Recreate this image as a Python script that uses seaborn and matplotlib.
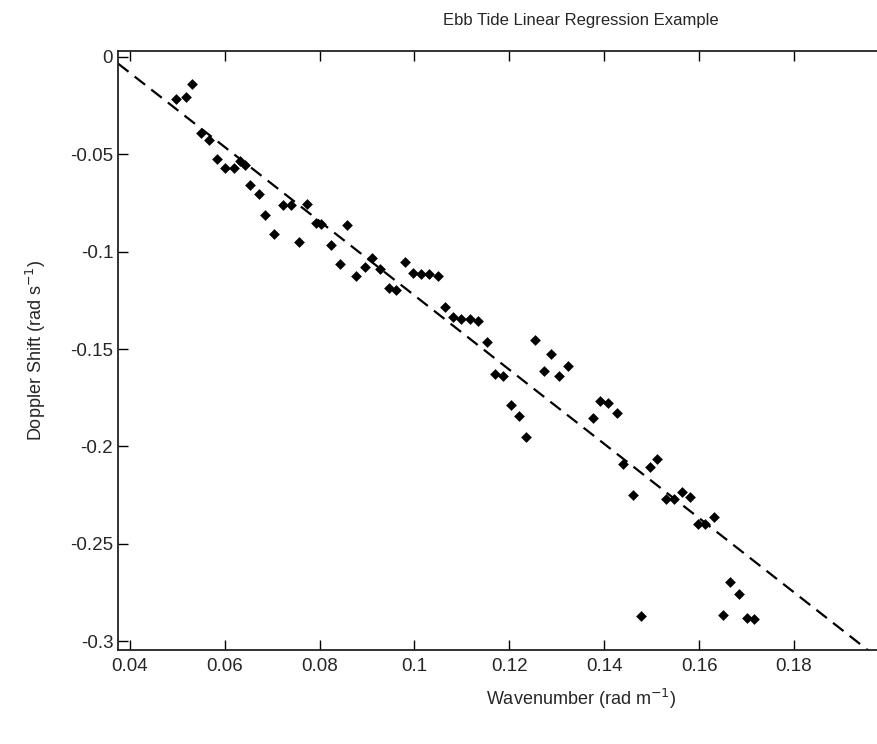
import numpy as np
import pandas as pd
import seaborn as sns
import matplotlib.pyplot as plt

# wavenumber (rad/m) and doppler shift (rad/s)
wavenumber = [0.0532, 0.0498, 0.0518, 0.0549, 0.0567, 0.0583, 0.0600, 0.0619, 0.0632, 0.0642,
              0.0653, 0.0672, 0.0685, 0.0704, 0.0722, 0.0739, 0.0774, 0.0793, 0.0802, 0.0858,
              0.0756, 0.0825, 0.0843, 0.0877, 0.0895, 0.0911, 0.0927, 0.0947, 0.0961, 0.0980,
              0.0997, 0.1013, 0.1031, 0.1050, 0.1064, 0.1082, 0.1099, 0.1118, 0.1134, 0.1152,
              0.1254, 0.1288, 0.1324, 0.1274, 0.1305, 0.1170, 0.1186, 0.1203, 0.1221, 0.1236,
              0.1391, 0.1408, 0.1427, 0.1376, 0.1439, 0.1496, 0.1512, 0.1460, 0.1530, 0.1548,
              0.1563, 0.1581, 0.1598, 0.1612, 0.1632, 0.1477, 0.1665, 0.1684, 0.1651, 0.1700,
              0.1716]
doppler = [-0.0140, -0.0215, -0.0207, -0.0391, -0.0426, -0.0525, -0.0571, -0.0571, -0.0537, -0.0554,
           -0.0660, -0.0704, -0.0812, -0.0908, -0.0759, -0.0759, -0.0756, -0.0853, -0.0859, -0.0865,
           -0.0952, -0.0964, -0.1062, -0.1123, -0.1078, -0.1034, -0.1089, -0.1186, -0.1195, -0.1053,
           -0.1109, -0.1114, -0.1116, -0.1123, -0.1282, -0.1337, -0.1345, -0.1345, -0.1357, -0.1462,
           -0.1455, -0.1523, -0.1588, -0.1614, -0.1636, -0.1626, -0.1636, -0.1785, -0.1845, -0.1952,
           -0.1767, -0.1776, -0.1829, -0.1856, -0.2088, -0.2106, -0.2062, -0.2248, -0.2272, -0.2272,
           -0.2236, -0.2262, -0.2400, -0.2400, -0.2363, -0.2873, -0.2694, -0.2755, -0.2865, -0.2882,
           -0.2887]

# fitted line as drawn in the reference: dw = intercept + slope * k
fit_intercept = 0.0680
fit_slope = -1.905

xticks = [0.04, 0.06, 0.08, 0.1, 0.12, 0.14, 0.16, 0.18]
xticklabels = ['0.04', '0.06', '0.08', '0.1', '0.12', '0.14', '0.16', '0.18']
yticks = [0, -0.05, -0.1, -0.15, -0.2, -0.25, -0.3]
yticklabels = ['0', '-0.05', '-0.1', '-0.15', '-0.2', '-0.25', '-0.3']

df = pd.DataFrame({'k': wavenumber, 'dw': doppler})

sns.set_style('ticks')
plt.rcParams['font.family'] = ['Liberation Sans Narrow', 'Liberation Sans', 'DejaVu Sans']
plt.rcParams['xtick.direction'] = 'in'
plt.rcParams['ytick.direction'] = 'in'

fig = plt.figure(figsize=(8.78, 7.44), dpi=100)
# axes runs past the right edge like the cropped original
ax = fig.add_axes([118 / 878, 94 / 744, 926 / 878, 599 / 744])
xlim = (0.0375, 0.2327)
ax.set_xlim(xlim)
ax.set_ylim(-0.3045, 0.003)

line_k = np.array(xlim)
fit_df = pd.DataFrame({'k': line_k, 'dw': fit_intercept + fit_slope * line_k})
sns.lineplot(x='k', y='dw', data=fit_df, ax=ax, color='black', lw=1.6, dashes=False)
ax.lines[-1].set_dashes((6, 3.5))
sns.scatterplot(x='k', y='dw', data=df, ax=ax, marker='D', s=30, color='black',
                edgecolor='black', linewidth=0, zorder=3)

ax.set_xticks(xticks)
ax.set_xticklabels(xticklabels)
ax.set_yticks(yticks)
ax.set_yticklabels(yticklabels)
ax.tick_params(axis='both', labelsize=13.5, length=7, width=1, top=True, right=True, color='black')
ax.tick_params(axis='x', pad=6)
for s in ax.spines.values():
    s.set_linewidth(1.3)
    s.set_color('#222222')

ax.set_xlabel('Wavenumber (rad m$^{-1}$)', fontsize=13, labelpad=8)
ax.set_ylabel('Doppler Shift (rad s$^{-1}$)', fontsize=13, labelpad=16)
ax.set_title('Ebb Tide Linear Regression Example', fontsize=12, pad=19)

fig.savefig('out.png', dpi=100)
